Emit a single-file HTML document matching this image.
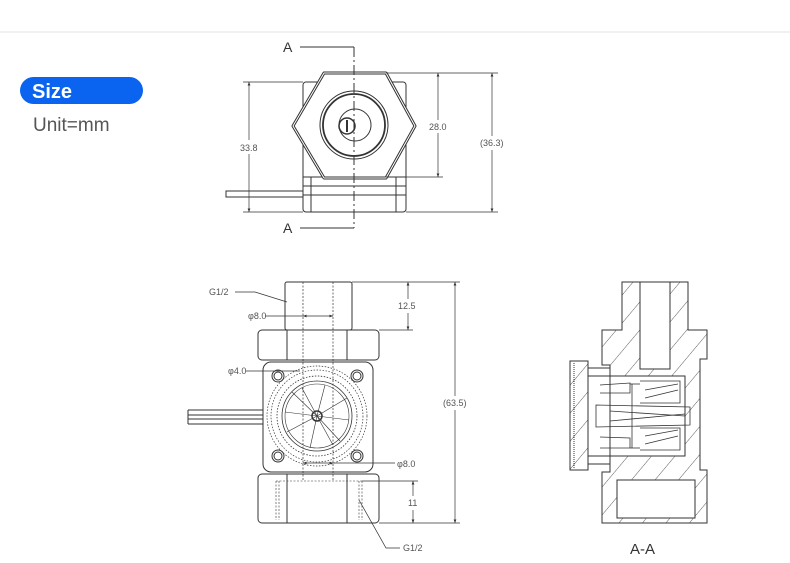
<!DOCTYPE html>
<html><head><meta charset="utf-8"><style>
html,body{margin:0;padding:0;background:#fff;width:790px;height:563px;overflow:hidden}
svg{position:absolute;left:0;top:0}
.t{font-family:"Liberation Sans",sans-serif;font-size:9px;fill:#555}
</style></head><body>
<svg width="790" height="563" viewBox="0 0 790 563" xmlns="http://www.w3.org/2000/svg">
<defs>
<pattern id="h" width="18" height="18" patternUnits="userSpaceOnUse" patternTransform="rotate(40)">
<line x1="0" y1="0" x2="0" y2="18" stroke="#333" stroke-width="0.8"/></pattern>
<marker id="ar" markerWidth="6" markerHeight="6" refX="5" refY="3" orient="auto-start-reverse"><path d="M0,1 L5,3 L0,5" fill="#333"/></marker>
</defs>
<line x1="0" y1="32" x2="790" y2="32" stroke="#e3e3e3" stroke-width="1"/>
<rect x="20" y="77" width="123" height="27" rx="13.5" fill="#0a64f0"/>
<text x="32" y="98" font-family="Liberation Sans,sans-serif" font-weight="bold" font-size="20" fill="#fff">Size</text>
<text x="33" y="131" font-family="Liberation Sans,sans-serif" font-size="19" fill="#555">Unit=mm</text>

<g fill="none" stroke="#333" stroke-width="1">
<rect x="303" y="82" width="103" height="130" rx="3"/>
<line x1="303" y1="177" x2="406" y2="177"/><line x1="303" y1="186" x2="406" y2="186"/><line x1="303" y1="195" x2="406" y2="195"/>
<line x1="311" y1="177" x2="311" y2="212"/><line x1="396" y1="177" x2="396" y2="212"/>
<polygon points="324,73 386,73 415,126 386,178 324,178 293,126" fill="#fff" stroke-width="3" stroke-linejoin="round"/>
<polygon points="324,73 386,73 415,126 386,178 324,178 293,126" stroke="#fff" stroke-width="1" stroke-linejoin="round"/>
<circle cx="354" cy="125" r="34"/><circle cx="354" cy="125" r="31" stroke-width="1.8"/>
<circle cx="355" cy="125" r="16"/><circle cx="347" cy="126" r="8" stroke-width="1.5"/>
<line x1="347" y1="120" x2="347" y2="132" stroke-width="2"/>
<rect x="226" y="191" width="77" height="6"/>
<line x1="300" y1="47" x2="354" y2="47"/><line x1="300" y1="228" x2="354" y2="228"/>
<line x1="354" y1="47" x2="354" y2="228" stroke-dasharray="10,3,2,3"/>
<line x1="243" y1="82" x2="303" y2="82" stroke-width="0.7"/><line x1="243" y1="212" x2="303" y2="212" stroke-width="0.7"/>
<line x1="249" y1="82" x2="249" y2="140" marker-start="url(#ar)" stroke-width="0.7"/><line x1="249" y1="154" x2="249" y2="212" marker-end="url(#ar)" stroke-width="0.7"/>
<line x1="386" y1="73" x2="498" y2="73" stroke-width="0.7"/><line x1="386" y1="177" x2="443" y2="177" stroke-width="0.7"/><line x1="406" y1="212" x2="498" y2="212" stroke-width="0.7"/>
<line x1="438" y1="73" x2="438" y2="120" marker-start="url(#ar)" stroke-width="0.7"/><line x1="438" y1="133" x2="438" y2="177" marker-end="url(#ar)" stroke-width="0.7"/>
<line x1="492" y1="73" x2="492" y2="136" marker-start="url(#ar)" stroke-width="0.7"/><line x1="492" y1="150" x2="492" y2="212" marker-end="url(#ar)" stroke-width="0.7"/>

<rect x="285" y="282" width="67" height="48" rx="2"/>
<line x1="303" y1="282" x2="303" y2="480" stroke-dasharray="2,1.5" stroke-width="0.7"/>
<line x1="333" y1="282" x2="333" y2="480" stroke-dasharray="2,1.5" stroke-width="0.7"/>
<rect x="258" y="330" width="121" height="30" rx="4"/>
<line x1="287" y1="330" x2="287" y2="360"/><line x1="347" y1="330" x2="347" y2="360"/>
<rect x="263" y="362" width="110" height="110" rx="8"/>
<circle cx="278" cy="376" r="6"/><circle cx="278" cy="376" r="4"/>
<circle cx="357" cy="376" r="6"/><circle cx="357" cy="376" r="4"/>
<circle cx="278" cy="456" r="6"/><circle cx="278" cy="456" r="4"/>
<circle cx="357" cy="456" r="6"/><circle cx="357" cy="456" r="4"/>
<circle cx="317" cy="416" r="50" stroke-dasharray="1.5,1.5" stroke-width="0.7"/>
<circle cx="317" cy="416" r="46" stroke-dasharray="1.5,1.5" stroke-width="0.7"/>
<circle cx="317" cy="416" r="40" stroke-dasharray="1.5,1.5" stroke-width="0.8"/>
<circle cx="317" cy="416" r="35" stroke-width="0.8"/>
<circle cx="317" cy="416" r="32" stroke-width="0.6"/>
<circle cx="317" cy="416" r="5" stroke-width="1.5"/>
<g stroke-width="0.6">
<line x1="317" y1="416" x2="347" y2="398"/><line x1="317" y1="416" x2="340" y2="441"/><line x1="317" y1="416" x2="310" y2="448"/>
<line x1="317" y1="416" x2="287" y2="432"/><line x1="317" y1="416" x2="292" y2="392"/><line x1="317" y1="416" x2="325" y2="385"/>
<line x1="317" y1="416" x2="349" y2="420"/><line x1="317" y1="416" x2="285" y2="412"/><line x1="317" y1="416" x2="302" y2="388"/><line x1="317" y1="416" x2="333" y2="445"/>
</g>
<line x1="188" y1="410" x2="263" y2="410"/><line x1="188" y1="415" x2="263" y2="415"/><line x1="188" y1="419" x2="263" y2="419"/><line x1="188" y1="424" x2="263" y2="424"/>
<line x1="188" y1="410" x2="188" y2="424"/>
<rect x="258" y="474" width="121" height="49" rx="4"/>
<line x1="287" y1="474" x2="287" y2="523"/><line x1="347" y1="474" x2="347" y2="523"/>
<g stroke-dasharray="2,1.5" stroke-width="0.6"><line x1="276" y1="481" x2="276" y2="520"/><line x1="279" y1="481" x2="279" y2="520"/><line x1="359" y1="481" x2="359" y2="520"/><line x1="362" y1="481" x2="362" y2="520"/><line x1="276" y1="481" x2="362" y2="481"/></g>
<g stroke-width="0.7">
<line x1="352" y1="282" x2="460" y2="282"/><line x1="379" y1="330" x2="413" y2="330"/><line x1="362" y1="481" x2="418" y2="481"/><line x1="379" y1="523" x2="460" y2="523"/>
<line x1="408" y1="282" x2="408" y2="299" marker-start="url(#ar)"/><line x1="408" y1="313" x2="408" y2="330" marker-end="url(#ar)"/>
<line x1="455" y1="282" x2="455" y2="396" marker-start="url(#ar)"/><line x1="455" y1="410" x2="455" y2="523" marker-end="url(#ar)"/>
<line x1="413" y1="481" x2="413" y2="496" marker-start="url(#ar)"/><line x1="413" y1="510" x2="413" y2="523" marker-end="url(#ar)"/>
<polyline points="235,292 255,292 287,302"/>
<line x1="265" y1="316" x2="303" y2="316"/><line x1="303" y1="316" x2="333" y2="316" marker-start="url(#ar)" marker-end="url(#ar)"/>
<line x1="246" y1="371" x2="300" y2="371"/>
<line x1="303" y1="463" x2="333" y2="463" marker-start="url(#ar)" marker-end="url(#ar)"/><line x1="333" y1="463" x2="395" y2="463"/>
<polyline points="400,548 386,548 359,500"/>
</g>

<path d="M622,282 H688 V330 H707 V359 H700 V470 H707 V523 H602 V472 H610 V365 H602 V330 H622 Z" fill="url(#h)"/>
<rect x="640" y="282" width="30" height="87" fill="#fff"/>
<rect x="617" y="480" width="78" height="38" fill="#fff"/>
<rect x="588" y="376" width="97" height="80" fill="#fff"/>
<rect x="570" y="361" width="18" height="109" fill="url(#h)"/>
<rect x="570" y="361" width="18" height="109"/>
<line x1="574" y1="363" x2="574" y2="468" stroke-dasharray="1,1"/>
<line x1="640" y1="282" x2="640" y2="369"/><line x1="670" y1="282" x2="670" y2="369"/><line x1="640" y1="369" x2="670" y2="369"/>
<rect x="617" y="480" width="78" height="38"/>
<rect x="588" y="376" width="97" height="80"/>
<line x1="588" y1="368" x2="610" y2="368"/><line x1="588" y1="464" x2="610" y2="464"/>
<g stroke-width="0.8">
<polyline points="600,385 630,383 630,393 600,393"/><polyline points="600,437 630,438 630,448 600,448"/>
<line x1="632" y1="384" x2="632" y2="448"/><line x1="630" y1="384" x2="640" y2="384"/><line x1="630" y1="448" x2="640" y2="448"/>
<polyline points="640,381 680,381 680,403 640,403"/><polyline points="640,428 680,428 680,450 640,450"/>
<line x1="645" y1="390" x2="678" y2="384"/><line x1="645" y1="398" x2="678" y2="390"/><line x1="645" y1="436" x2="678" y2="430"/><line x1="645" y1="444" x2="678" y2="436"/>
<polygon points="596,405 690,407 690,425 596,427"/>
<line x1="610" y1="411" x2="685" y2="416"/><line x1="610" y1="421" x2="685" y2="414"/>
</g>
<path d="M622,282 H688 V330 H707 V359 H700 V470 H707 V523 H602 V472 H610 V365 H602 V330 H622 Z"/>
</g>

<g class="t">
<text x="283" y="52" font-size="14" fill="#333">A</text>
<text x="283" y="233" font-size="14" fill="#333">A</text>
<text x="240" y="151">33.8</text>
<text x="429" y="130">28.0</text>
<text x="480" y="146">(36.3)</text>
<text x="209" y="295">G1/2</text>
<text x="248" y="319">φ8.0</text>
<text x="398" y="309">12.5</text>
<text x="228" y="374">φ4.0</text>
<text x="443" y="406">(63.5)</text>
<text x="397" y="467">φ8.0</text>
<text x="408" y="506">11</text>
<text x="403" y="551">G1/2</text>
<text x="630" y="554" font-size="15" fill="#333">A-A</text>
</g>
</svg>
</body></html>
